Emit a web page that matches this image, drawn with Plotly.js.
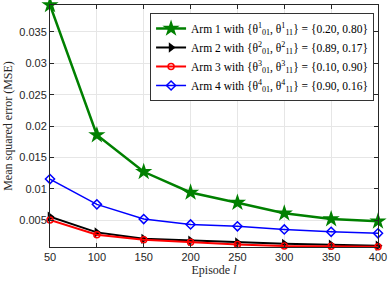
<!DOCTYPE html>
<html>
<head>
<meta charset="utf-8">
<script src="https://cdn.plot.ly/plotly-3.0.1.min.js"></script>
<style>html,body{margin:0;padding:0;background:#fff;}#chart{width:388px;height:281px;}</style>
</head>
<body>
<div id="chart"></div>
<script>
const episodes = [50, 100, 150, 200, 250, 300, 350, 400];
const arm1 = [0.0393, 0.01856, 0.0127, 0.0094, 0.00777, 0.00607, 0.00516, 0.0048];
const arm2 = [0.00553, 0.00303, 0.0020, 0.0017, 0.00141, 0.0012, 0.00106, 0.0009];
const arm3 = [0.0050, 0.00266, 0.00186, 0.00144, 0.0011, 0.00085, 0.0008, 0.00074];
const arm4 = [0.01154, 0.0075, 0.00516, 0.0043, 0.0040, 0.0035, 0.00313, 0.00288];
const names = [
  'Arm 1 with {θ<sup>1</sup><sub>01</sub>, θ<sup>1</sup><sub>11</sub>} = {0.20, 0.80}',
  'Arm 2 with {θ<sup>2</sup><sub>01</sub>, θ<sup>2</sup><sub>11</sub>} = {0.89, 0.17}',
  'Arm 3 with {θ<sup>3</sup><sub>01</sub>, θ<sup>3</sup><sub>11</sub>} = {0.10, 0.90}',
  'Arm 4 with {θ<sup>4</sup><sub>01</sub>, θ<sup>4</sup><sub>11</sub>} = {0.90, 0.16}'
];
const xTicks = [50, 100, 150, 200, 250, 300, 350, 400];
const yTicks = [0.005, 0.01, 0.015, 0.02, 0.025, 0.03, 0.035];
const yTickText = ['0.005', '0.01', '0.015', '0.02', '0.025', '0.03', '0.035'];

const traces = [
  {x: episodes, y: arm1, name: names[0], mode: 'lines+markers', cliponaxis: false,
   line: {color: '#008000', width: 2.5}, marker: {symbol: 'star', size: 13, color: '#008000'}},
  {x: episodes, y: arm2, name: names[1], mode: 'lines+markers', cliponaxis: false,
   line: {color: '#000000', width: 2}, marker: {symbol: 'triangle-right', size: 9, color: '#000000'}},
  {x: episodes, y: arm3, name: names[2], mode: 'lines+markers', cliponaxis: false,
   line: {color: '#ff0000', width: 2}, marker: {symbol: 'circle-open', size: 6, color: '#ff0000', line: {width: 1.5}}},
  {x: episodes, y: arm4, name: names[3], mode: 'lines+markers', cliponaxis: false,
   line: {color: '#0000ff', width: 1.5}, marker: {symbol: 'diamond-open', size: 7, color: '#0000ff', line: {width: 1.5}}}
];

const layout = {
  width: 388, height: 281,
  margin: {l: 50, r: 10, t: 5, b: 34},
  paper_bgcolor: '#fff', plot_bgcolor: '#fff',
  showlegend: true,
  legend: {x: 0.988, y: 0.967, xanchor: 'right', yanchor: 'top',
    bgcolor: '#fff', bordercolor: '#333', borderwidth: 1,
    font: {family: 'Liberation Serif, Times New Roman, serif', size: 11.5, color: '#000'},
    tracegroupgap: 0, itemwidth: 30},
  xaxis: {range: [50, 400], tickvals: xTicks, ticktext: xTicks.map(String),
    showgrid: true, gridcolor: '#e6e6e6', zeroline: false,
    showline: true, linecolor: '#262626', linewidth: 1, mirror: 'ticks',
    ticks: 'inside', ticklen: 4, tickcolor: '#262626',
    tickfont: {family: 'Liberation Sans, Arial, sans-serif', size: 11, color: '#262626'},
    title: {text: 'Episode <i>l</i>', standoff: 3,
      font: {family: 'Liberation Serif, Times New Roman, serif', size: 12, color: '#262626'}}},
  yaxis: {range: [0.0007, 0.0393], tickvals: yTicks, ticktext: yTickText,
    showgrid: true, gridcolor: '#e6e6e6', zeroline: false,
    showline: true, linecolor: '#262626', linewidth: 1, mirror: 'ticks',
    ticks: 'inside', ticklen: 4, tickcolor: '#262626',
    tickfont: {family: 'Liberation Sans, Arial, sans-serif', size: 11, color: '#262626'},
    title: {text: 'Mean squared error (MSE)', standoff: 4,
      font: {family: 'Liberation Serif, Times New Roman, serif', size: 12, color: '#262626'}}}
};

Plotly.newPlot('chart', traces, layout, {displayModeBar: false, staticPlot: true});
</script>
</body>
</html>
